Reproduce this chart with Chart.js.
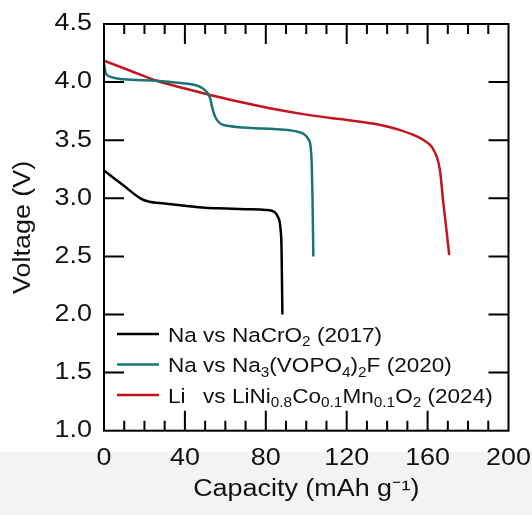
<!DOCTYPE html>
<html>
<head>
<meta charset="utf-8">
<script src="https://cdn.jsdelivr.net/npm/chart.js@4.4.0/dist/chart.umd.min.js"></script>
<style>
  html, body { margin: 0; padding: 0; background: #fff; }
</style>
</head>
<body>
<canvas id="voltChart" width="532" height="515"></canvas>
<script>
// Discharge curves (capacity in mAh/g, voltage in V)
const naCrCap  = [0, 10, 18, 22, 30, 40, 50, 60, 70, 80, 84, 86, 87.2, 87.8, 88.2];
const naCrVolt = [3.24, 3.105, 3.0, 2.972, 2.955, 2.935, 2.918, 2.912, 2.906, 2.9, 2.885, 2.84, 2.75, 2.55, 2.0];

const naVCap  = [0, 0.8, 3, 9.5, 26, 39, 45, 48, 51, 52.5, 53.5, 55, 57.4, 62, 67, 75, 84, 92, 96, 99, 101, 102.2, 102.7, 103.1, 103.5];
const naVVolt = [4.16, 4.08, 4.047, 4.024, 4.012, 3.99, 3.975, 3.955, 3.91, 3.86, 3.78, 3.7, 3.645, 3.622, 3.611, 3.603, 3.596, 3.585, 3.572, 3.55, 3.51, 3.44, 3.3, 3.0, 2.5];

const nmcCap  = [0, 13, 26, 40, 52.4, 67, 84, 100, 116.5, 125, 133, 140, 146.8, 152, 156.2, 160, 162, 164.5, 166.1, 167.8, 169.5, 170.7];
const nmcVolt = [4.184, 4.098, 4.012, 3.945, 3.889, 3.831, 3.768, 3.72, 3.682, 3.664, 3.643, 3.618, 3.585, 3.553, 3.52, 3.477, 3.444, 3.358, 3.244, 2.957, 2.7, 2.51];

// Tick labels
const capTicks  = [0, 40, 80, 120, 160, 200];
const voltTicks = [1.0, 1.5, 2.0, 2.5, 3.0, 3.5, 4.0, 4.5];

// Legend text, split into [text, isSubscript] pieces
const legendNaCr = [['Na vs NaCrO', 0], ['2', 1], [' (2017)', 0]];
const legendNaV  = [['Na vs Na', 0], ['3', 1], ['(VOPO', 0], ['4', 1], [')', 0], ['2', 1], ['F (2020)', 0]];
const legendNmc  = [['Li', 0], ['vs LiNi', 0], ['0.8', 1], ['Co', 0], ['0.1', 1], ['Mn', 0], ['0.1', 1], ['O', 0], ['2', 1], [' (2024)', 0]];

const colors = ['#000000', '#1a7476', '#c3141f'];
const FONT = "'Liberation Sans', Arial, sans-serif";

function toPoints(xs, ys) {
  return xs.map((v, i) => ({ x: v, y: ys[i] }));
}

const canvas = document.getElementById('voltChart');
const ctx = canvas.getContext('2d');

// The figure's lettering is a little wider than Arial, so stretch text
// horizontally around its anchor point (keeps alignment and rotation intact)
const plainFillText = ctx.fillText.bind(ctx);
ctx.textStretch = 1;
ctx.fillText = function (text, x, y, maxWidth) {
  if (this.textStretch === 1) return plainFillText(text, x, y, maxWidth);
  this.save();
  this.translate(x, y);
  this.scale(this.textStretch, 1);
  plainFillText(text, 0, 0);
  this.restore();
};

// White page with the light grey strip at the bottom
const background = {
  id: 'background',
  beforeDraw(chart) {
    const c = chart.ctx;
    c.save();
    c.fillStyle = '#ffffff';
    c.fillRect(0, 0, chart.width, chart.height);
    c.fillStyle = '#f3f3f3';
    c.fillRect(0, 452, chart.width, chart.height - 452);
    c.restore();
    c.textStretch = 1.17;
  }
};

// Closed frame with inward ticks on all four sides
const frameTicks = {
  id: 'frameTicks',
  afterDraw(chart) {
    const { ctx: c, chartArea: a, scales: { x, y } } = chart;
    c.save();
    c.strokeStyle = '#000';
    c.lineWidth = 2;
    c.beginPath();
    for (let v = 10; v < 200; v += 10) {
      const px = x.getPixelForValue(v);
      const len = v % 40 === 0 ? 20 : 10;
      c.moveTo(px, a.bottom); c.lineTo(px, a.bottom - len);
      c.moveTo(px, a.top); c.lineTo(px, a.top + len);
    }
    voltTicks.slice(1, -1).forEach(v => {
      const py = y.getPixelForValue(v);
      c.moveTo(a.left, py); c.lineTo(a.left + 20, py);
      c.moveTo(a.right, py); c.lineTo(a.right - 20, py);
    });
    c.stroke();
    c.strokeRect(a.left, a.top, a.right - a.left, a.bottom - a.top);
    c.restore();
  }
};

// Legend with subscripts (Chart.js legend can't do those)
const subLegend = {
  id: 'subLegend',
  afterDraw(chart) {
    const c = chart.ctx;
    const rows = [legendNaCr, legendNaV, legendNmc];
    const stretch = 1.1;
    const lineX0 = 117, lineX1 = 159, textX = 168, rowY = [334, 364.5, 395];
    c.save();
    c.textStretch = stretch;
    c.textBaseline = 'alphabetic';
    c.textAlign = 'left';
    c.fillStyle = '#111';
    c.font = '20.5px ' + FONT;
    const vsX = textX + c.measureText('Na ').width * stretch;
    rows.forEach((row, i) => {
      c.strokeStyle = colors[i];
      c.lineWidth = 2.5;
      c.beginPath();
      c.moveTo(lineX0, rowY[i]);
      c.lineTo(lineX1, rowY[i]);
      c.stroke();
      let cx = textX;
      const base = rowY[i] + 7.5;
      row.forEach(([txt, sub], k) => {
        if (i === 2 && k === 1) cx = vsX;
        c.font = (sub ? '14px ' : '20.5px ') + FONT;
        c.fillText(txt, cx, sub ? base + 4.5 : base);
        cx += c.measureText(txt).width * stretch;
      });
    });
    c.restore();
    c.textStretch = 1;
  }
};

const voltChart = new Chart(ctx, {
  type: 'line',
  data: {
    datasets: [
      { label: 'Na vs NaCrO2 (2017)', data: toPoints(naCrCap, naCrVolt), borderColor: colors[0] },
      { label: 'Na vs Na3(VOPO4)2F (2020)', data: toPoints(naVCap, naVVolt), borderColor: colors[1] },
      { label: 'Li vs LiNi0.8Co0.1Mn0.1O2 (2024)', data: toPoints(nmcCap, nmcVolt), borderColor: colors[2] }
    ]
  },
  options: {
    responsive: false,
    animation: false,
    devicePixelRatio: 1,
    layout: { padding: { top: 24, right: 23.5, left: 0, bottom: 0 } },
    elements: {
      line: { borderWidth: 2.5, cubicInterpolationMode: 'monotone', fill: false },
      point: { radius: 0 }
    },
    plugins: {
      legend: { display: false },
      tooltip: { enabled: false }
    },
    scales: {
      x: {
        type: 'linear',
        min: 0,
        max: 200,
        afterBuildTicks: s => { s.ticks = capTicks.map(v => ({ value: v })); },
        afterFit: s => { s.height = 84.3; s.paddingLeft = 0; s.paddingRight = 0; },
        grid: { display: false, drawTicks: false },
        border: { display: false },
        ticks: { color: '#111', padding: 14, font: { family: FONT, size: 23 } },
        title: {
          display: true,
          text: 'Capacity (mAh g\u207B\u00B9)',
          color: '#111',
          font: { family: FONT, size: 23 },
          padding: { top: 0, bottom: 12 }
        }
      },
      y: {
        type: 'linear',
        min: 1,
        max: 4.5,
        afterBuildTicks: s => { s.ticks = voltTicks.map(v => ({ value: v })); },
        afterFit: s => { s.width = 104; s.paddingTop = 0; s.paddingBottom = 0; },
        grid: { display: false, drawTicks: false },
        border: { display: false },
        ticks: {
          color: '#111',
          padding: 12,
          font: { family: FONT, size: 23 },
          callback: v => v.toFixed(1)
        },
        title: {
          display: true,
          text: 'Voltage (V)',
          color: '#111',
          font: { family: FONT, size: 23 },
          padding: { top: 10, bottom: 0 }
        }
      }
    }
  },
  plugins: [background, frameTicks, subLegend]
});
</script>
</body>
</html>
